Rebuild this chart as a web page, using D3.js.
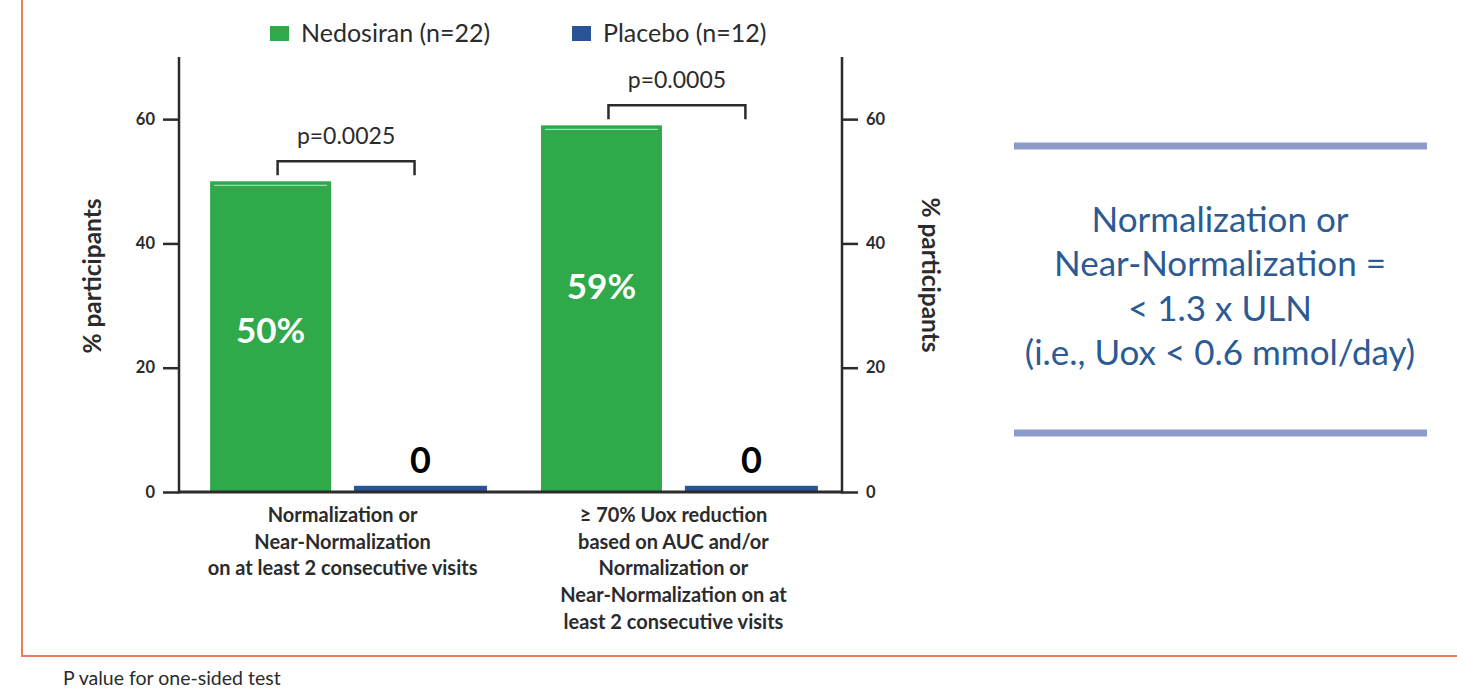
<!DOCTYPE html>
<html>
<head>
<meta charset="utf-8">
<script src="https://cdn.jsdelivr.net/npm/d3@7"></script>
<style>
  html, body { margin: 0; padding: 0; background: #fff; }
  svg { display: block; }
</style>
</head>
<body>
<svg id="chart" width="1457" height="695"></svg>
<script>
// ---- data ----
const categories = [
  ["Normalization or", "Near-Normalization", "on at least 2 consecutive visits"],
  ["\u2265 70% Uox reduction", "based on AUC and/or", "Normalization or", "Near-Normalization on at", "least 2 consecutive visits"]
];
const seriesNames = ["Nedosiran (n=22)", "Placebo (n=12)"];
const nedosiranValues = [50, 59];
const placeboValues = [0, 0];
const valueLabelsNedosiran = ["50%", "59%"];
const valueLabelsPlacebo = ["0", "0"];
const pValues = ["p=0.0025", "p=0.0005"];
const yTicks = [0, 20, 40, 60];
const yMax = 70;
const yTitle = "% participants";
const boxLines = ["Normalization or", "Near-Normalization =", "< 1.3 x ULN", "(i.e., Uox < 0.6 mmol/day)"];
const footnote = "P value for one-sided test";

// ---- styles ----
const green = "#30a94a", blue = "#2a5495", ink = "#2b2b2b";
const font = "Lato, 'Open Sans', sans-serif";
const minBarValue = 1; // zero bars still drawn as a thin sliver

const svg = d3.select("#chart");

// frame
svg.append("path")
  .attr("d", "M22,0 V656 H1457")
  .attr("fill", "none").attr("stroke", "#ee7c5e").attr("stroke-width", 2);

const xLeft = 179, xRight = 842, yBase = 492, yTop = 57;
const y = d3.scaleLinear().domain([0, yMax]).range([yBase, yTop]);
const catIdx = categories.map((d, i) => i);
const x0 = d3.scaleBand().domain(catIdx).range([179, 849]).paddingInner(0.163).paddingOuter(0.094);
const x1 = d3.scaleBand().domain([0, 1]).range([0, x0.bandwidth()]).paddingInner(0.153);
const widthAdj = [-6, 6];   // green slightly narrower, placebo slightly wider
const shiftAdj = [0, -6];

// axes
const leftAxis = d3.axisLeft(y).tickValues(yTicks).tickSize(16).tickPadding(8);
const rightAxis = d3.axisRight(y).tickValues(yTicks).tickSize(16).tickPadding(8);
function styleAxis(g) {
  g.select(".domain").remove();
  g.selectAll(".tick line").attr("stroke", ink).attr("stroke-width", 2.5);
  g.selectAll(".tick text").attr("fill", ink).attr("font-family", font)
    .attr("font-weight", 700).attr("font-size", 16.5);
}
svg.append("g").attr("transform", `translate(${xLeft},0)`).call(leftAxis).call(styleAxis);
svg.append("g").attr("transform", `translate(${xRight},0)`).call(rightAxis).call(styleAxis);
svg.append("line").attr("x1", xLeft).attr("x2", xLeft).attr("y1", yTop).attr("y2", yBase + 1.5)
  .attr("stroke", ink).attr("stroke-width", 2.5);
svg.append("line").attr("x1", xRight).attr("x2", xRight).attr("y1", yTop).attr("y2", yBase + 1.5)
  .attr("stroke", ink).attr("stroke-width", 2.5);

// bars
const bars = svg.append("g");
const barX = (i, s) => x0(i) + x1(s) + shiftAdj[s];
const barW = s => x1.bandwidth() + widthAdj[s];
const barC = (i, s) => barX(i, s) + barW(s) / 2;
catIdx.forEach(i => {
  const vals = [nedosiranValues[i], placeboValues[i]];
  vals.forEach((v, s) => {
    const bx = barX(i, s), bw = barW(s);
    const top = y(Math.max(v, minBarValue));
    bars.append("rect")
      .attr("x", bx).attr("y", top)
      .attr("width", bw).attr("height", y(0) - top)
      .attr("fill", s === 0 ? green : blue);
    if (s === 0) {
      bars.append("line")
        .attr("x1", bx + 4).attr("x2", bx + bw - 4)
        .attr("y1", top + 4).attr("y2", top + 4)
        .attr("stroke", "#fff").attr("stroke-opacity", 0.7).attr("stroke-width", 1);
    }
  });
});

// x axis baseline
svg.append("line").attr("x1", xLeft).attr("x2", xRight).attr("y1", yBase).attr("y2", yBase)
  .attr("stroke", ink).attr("stroke-width", 3);

// value labels
catIdx.forEach(i => {
  const v = nedosiranValues[i];
  svg.append("text")
    .attr("x", barC(i, 0))
    .attr("y", y(v * 0.78 - 15))
    .attr("text-anchor", "middle").attr("fill", "#fff")
    .attr("font-family", font).attr("font-weight", 700).attr("font-size", 35)
    .text(valueLabelsNedosiran[i]);
  svg.append("text")
    .attr("x", barC(i, 1))
    .attr("y", y(placeboValues[i]) - 19)
    .attr("text-anchor", "middle").attr("fill", "#000")
    .attr("font-family", font).attr("font-weight", 700).attr("font-size", 36)
    .text(valueLabelsPlacebo[i]);
});

// significance brackets
catIdx.forEach(i => {
  const xa = barC(i, 0) + 7;
  const xb = barC(i, 1) - 6;
  const yt = y(nedosiranValues[i]) - 20;
  const yb = y(nedosiranValues[i]) - 6;
  svg.append("path")
    .attr("d", `M${xa},${yb} V${yt} H${xb} V${yb}`)
    .attr("fill", "none").attr("stroke", ink).attr("stroke-width", 2.5);
  svg.append("text")
    .attr("x", (xa + xb) / 2).attr("y", yt - 17)
    .attr("text-anchor", "middle").attr("fill", ink)
    .attr("font-family", font).attr("font-size", 23)
    .text(pValues[i]);
});

// category labels
catIdx.forEach(i => {
  const cx = x0(i) + x0.bandwidth() / 2 - 6;
  const t = svg.append("text")
    .attr("text-anchor", "middle").attr("fill", ink)
    .attr("font-family", font).attr("font-weight", 700).attr("font-size", 20);
  categories[i].forEach((line, k) => {
    t.append("tspan").attr("x", cx).attr("y", 522 + k * 26.7).text(line);
  });
});

// axis titles
svg.append("text")
  .attr("transform", `translate(101,276) rotate(-90)`)
  .attr("text-anchor", "middle").attr("fill", ink)
  .attr("font-family", font).attr("font-weight", 700).attr("font-size", 24.5)
  .text(yTitle);
svg.append("text")
  .attr("transform", `translate(922,275) rotate(90)`)
  .attr("text-anchor", "middle").attr("fill", ink)
  .attr("font-family", font).attr("font-weight", 700).attr("font-size", 24.5)
  .text(yTitle);

// legend
const legendX = [270, 572];
seriesNames.forEach((name, s) => {
  svg.append("rect").attr("x", legendX[s]).attr("y", 26).attr("width", 19).attr("height", 15)
    .attr("fill", s === 0 ? green : blue);
  svg.append("text").attr("x", legendX[s] + 31).attr("y", 42)
    .attr("fill", ink).attr("font-family", font).attr("font-size", 25)
    .text(name);
});

// definition box
svg.append("line").attr("x1", 1014).attr("x2", 1427).attr("y1", 146).attr("y2", 146)
  .attr("stroke", "#8e9ac9").attr("stroke-width", 7);
svg.append("line").attr("x1", 1014).attr("x2", 1427).attr("y1", 433).attr("y2", 433)
  .attr("stroke", "#8e9ac9").attr("stroke-width", 7);
const bt = svg.append("text").attr("text-anchor", "middle").attr("fill", "#2c5a94")
  .attr("font-family", font).attr("font-size", 35);
boxLines.forEach((line, k) => {
  bt.append("tspan").attr("x", 1220).attr("y", 232 + k * 44.3).text(line);
});

// footnote
svg.append("text").attr("x", 63).attr("y", 685)
  .attr("fill", ink).attr("font-family", font).attr("font-size", 19.5)
  .text(footnote);
</script>
</body>
</html>
